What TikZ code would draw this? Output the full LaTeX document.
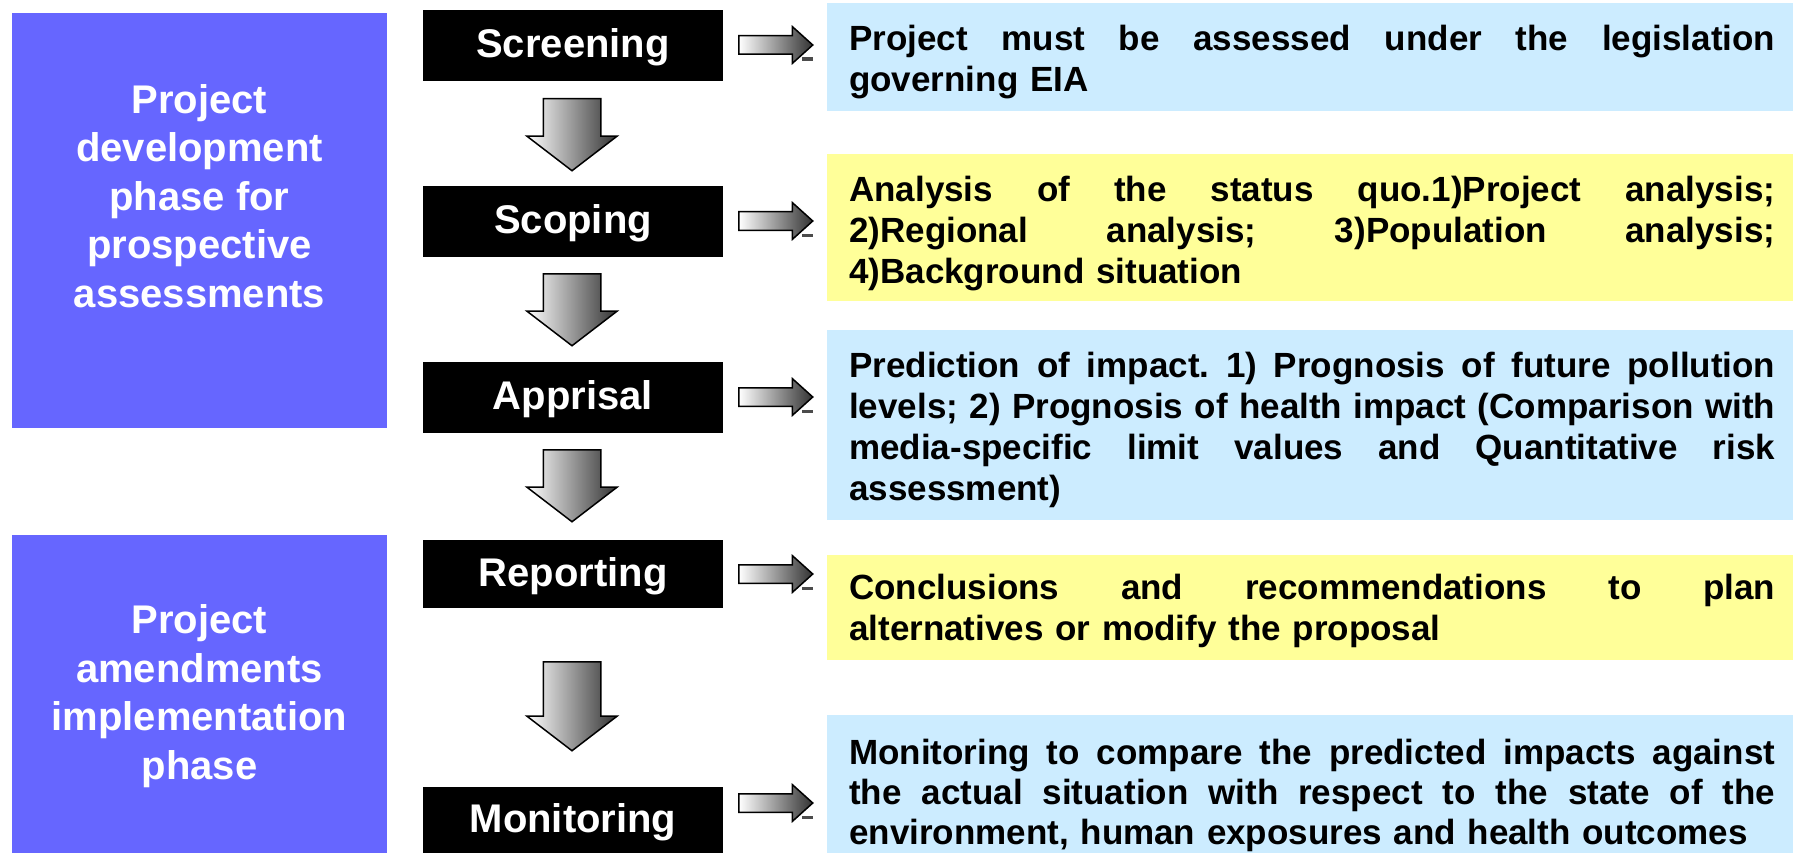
\documentclass[tikz,border=0pt]{standalone}
\usepackage{fontspec}
\setmainfont{Liberation Sans}
\usetikzlibrary{shapes.arrows,calc}
\definecolor{phaseblue}{HTML}{6666FF}
\definecolor{boxblue}{HTML}{CCECFF}
\definecolor{boxyellow}{HTML}{FFFF99}
\newlength\rtw
\setlength\rtw{926pt}
\newcommand\jl[1]{\leavevmode{\spaceskip=0.278em plus 1fil\relax\hbox to\rtw{#1}}}
\begin{document}
\begin{tikzpicture}[x=1pt,y=-1pt,
  phase/.style={fill=phaseblue, inner sep=0pt, minimum width=375pt, anchor=north west},
  phasetext/.style={text=white, align=center, inner sep=0pt, font=\fontsize{40pt}{48.5pt}\selectfont\bfseries},
  stage/.style={fill=black, text=white, minimum width=300pt, inner sep=0pt, text height=32pt, text depth=8pt, font=\fontsize{40pt}{48pt}\selectfont\bfseries},
  infobox/.style={inner sep=0pt, minimum width=966pt, anchor=north west},
  infotext/.style={text width=926pt, align=left, inner sep=0pt, anchor=west, font=\fontsize{35pt}{41pt}\selectfont\bfseries\frenchspacing},
  rarr/.style={single arrow, anchor=tail, draw=black, line width=1.5pt, left color=white, right color=black!80,
    minimum height=74pt, inner xsep=0pt, inner ysep=8.5pt, single arrow head extend=9pt, single arrow tip angle=84},
  darr/.style={single arrow, anchor=tail, rotate=-90, draw=black, line width=1.5pt, left color=white, right color=black!80,
    inner xsep=0pt, inner ysep=28pt, single arrow head extend=16.5pt, single arrow tip angle=105},
  tipmark/.style={fill=black!70}
]
\clip (0,0) rectangle (1793,853);
\fill[white] (0,0) rectangle (1793,853);

% left phase boxes
\node[phase, minimum height=415pt] (pa) at (12,13) {};
\node[phase, minimum height=330pt] (pb) at (12,535) {};
\node[phasetext] (pat) at (199.5,196) {Project\\development\\phase for\\prospective\\assessments};
\node[phasetext] (pbt) at (199.5,696) {Project\\amendments\\implementation\\phase};

% stage boxes
\node[stage, minimum height=70.7pt] (scr) at (573,45.35) {Screening};
\node[stage, minimum height=70.7pt] (sco) at (573,221.35) {Scoping};
\node[stage, minimum height=71pt] (app) at (573,397.5) {Apprisal};
\node[stage, minimum height=68.3pt] (rep) at (573,574.15) {Reporting};
\node[stage, minimum height=66.6pt] (mon) at (573,820) {Monitoring};

% down arrows
\node[darr, minimum height=72pt] (d1) at (572,98) {};
\node[darr, minimum height=72pt] (d2) at (572,273) {};
\node[darr, minimum height=72pt] (d3) at (572,449) {};
\node[darr, minimum height=89pt] (d4) at (572,661) {};

% right arrows
\node[rarr] (r1) at (738,45) {};
\node[rarr] (r2) at (738,221) {};
\node[rarr] (r3) at (738,397) {};
\node[rarr] (r4) at (738,574) {};
\node[rarr] (r5) at (738,803) {};
\foreach \r in {r1,r2,r3,r4,r5}
  \fill[tipmark] ($(\r.tip)+(-11.5,12.5)$) rectangle ($(\r.tip)+(-1,16)$);

% info boxes
\node[infobox, fill=boxblue, minimum height=107.7pt] (b1) at (827,3) {};
\node[infobox, fill=boxyellow, minimum height=146.7pt] (b2) at (827,154) {};
\node[infobox, fill=boxblue, minimum height=189.5pt] (b3) at (827,330) {};
\node[infobox, fill=boxyellow, minimum height=104.3pt] (b4) at (827,555) {};
\node[infobox, fill=boxblue, minimum height=160pt] (b5) at (827,715) {};

\node[infotext] (t1) at (849,61.8) {\jl{Project must be assessed under the legislation}\\governing EIA};
\node[infotext] (t2) at (849,233.5) {\jl{Analysis of the status quo.1)Project analysis;}\\\jl{2)Regional analysis; 3)Population analysis;}\\4)Background situation};
\node[infotext] (t3) at (849,429.5) {\jl{Prediction of impact. 1) Prognosis of future pollution}\\\jl{levels; 2) Prognosis of health impact (Comparison with}\\\jl{media-specific limit values and Quantitative risk}\\assessment)};
\node[infotext] (t4) at (849,611) {\jl{Conclusions and recommendations to plan}\\alternatives or modify the proposal};
\node[infotext, font=\fontsize{35pt}{40pt}\selectfont\bfseries\frenchspacing] (t5) at (849,795) {\jl{Monitoring to compare the predicted impacts against}\\\jl{the actual situation with respect to the state of the}\\environment, human exposures and health outcomes};
\end{tikzpicture}
\end{document}
